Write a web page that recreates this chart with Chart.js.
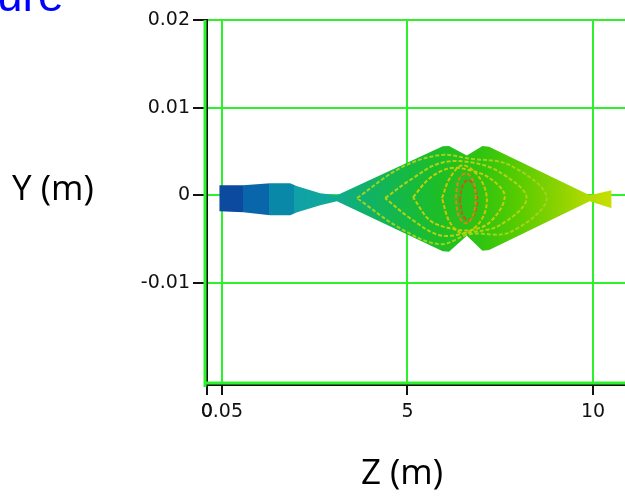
<!DOCTYPE html>
<html>
<head>
<meta charset="utf-8">
<script src="https://cdn.jsdelivr.net/npm/chart.js@4.4.0/dist/chart.umd.min.js"></script>
<style>
  html, body { margin: 0; padding: 0; background: #fff; }
  #wrap { position: relative; width: 625px; height: 500px; }
</style>
</head>
<body>
<div id="wrap"><canvas id="grafico" width="625" height="500"></canvas></div>
<script>
// envelope of the beam (upper and lower edge), z in m, y in m
const zEdge  = [-0.07, 0.58, 1.30, 1.84, 2.03, 2.65, 3.10, 5.95, 6.12, 6.60, 7.02, 7.20, 9.91, 10.50];
const yUpper = [0.00117, 0.00117, 0.00140, 0.00140, 0.00106, 0.00026, 0.00003, 0.00560, 0.00565, 0.00455, 0.00565, 0.00555, 0.00003, 0.00060];
const yLower = [-0.00179, -0.00190, -0.00225, -0.00225, -0.00190, -0.00111, -0.00065, -0.00635, -0.00640, -0.00460, -0.00630, -0.00620, -0.00065, -0.00145];

// contour lines (closed), from outside to inside
const contourZ = [
  [3.64, 4.80, 5.87, 6.68, 7.76, 8.75, 7.76, 6.68, 5.87, 4.80, 3.64],
  [4.40, 5.07, 5.87, 6.68, 7.49, 8.21, 7.49, 6.68, 5.87, 5.07, 4.40],
  [5.15, 5.60, 6.14, 6.68, 7.22, 7.62, 7.22, 6.68, 6.14, 5.60, 5.15],
  [5.93, 6.14, 6.49, 6.95, 7.14, 6.95, 6.49, 6.14, 5.93],
  [6.30, 6.38, 6.57, 6.76, 6.84, 6.76, 6.57, 6.38, 6.30],
  [6.41, 6.49, 6.63, 6.79, 6.88, 6.79, 6.63, 6.49, 6.41]
];
const contourY = [
  [-0.00030, 0.00311, 0.00460, 0.00420, 0.00345, -0.00030, -0.00419, -0.00440, -0.00556, -0.00373, -0.00030],
  [-0.00030, 0.00175, 0.00368, 0.00380, 0.00265, -0.00030, -0.00339, -0.00420, -0.00453, -0.00259, -0.00030],
  [-0.00020, 0.00197, 0.00311, 0.00288, 0.00197, -0.00010, -0.00305, -0.00396, -0.00373, -0.00282, -0.00020],
  [-0.00031, 0.00197, 0.00345, 0.00197, -0.00054, -0.00305, -0.00430, -0.00305, -0.00031],
  [-0.00031, 0.00175, 0.00254, 0.00175, -0.00031, -0.00236, -0.00316, -0.00236, -0.00031],
  [-0.00054, 0.00117, 0.00175, 0.00117, -0.00054, -0.00225, -0.00282, -0.00225, -0.00054]
];
const contourColor = ['#9ed41c', '#acd414', '#c0d00a', '#d2c400', '#d08a18', '#c45a1c'];

// axes
const xTicks = [-0.4, 0, 5, 10];
const xTickLabels = ['0', '0.05', '5', '10'];
const yTicks = [0.02, 0.01, 0, -0.01];
const yTickLabels = ['0.02', '0.01', '0', '-0.01'];

// colour of the fill along z
const fillStops = [
  [-0.1, '#0c4aa0'], [0.58, '#0c4aa0'], [0.58, '#0a66aa'], [1.28, '#0a66aa'],
  [1.28, '#0a88a8'], [1.95, '#0a88a8'], [1.95, '#10a0a8'], [3.0, '#10aa98'],
  [3.7, '#10b070'], [4.8, '#14b848'], [5.8, '#1cbe28'], [7.0, '#30c410'],
  [8.0, '#58cc00'], [9.0, '#88d200'], [10.0, '#b8dc00'], [10.6, '#c8e000']
];

const verde = '#2cf22c';

function rellenar(ctx) {
  const chart = ctx.chart;
  if (!chart.chartArea) return '#20c020';
  const xs = chart.scales.x;
  const z0 = fillStops[0][0], z1 = fillStops[fillStops.length - 1][0];
  const g = chart.ctx.createLinearGradient(xs.getPixelForValue(z0), 0, xs.getPixelForValue(z1), 0);
  fillStops.forEach(s => g.addColorStop((s[0] - z0) / (z1 - z0), s[1]));
  return g;
}

const datasets = [
  {
    data: zEdge.map((z, i) => ({x: z, y: yUpper[i]})),
    showLine: true, borderWidth: 0, pointRadius: 0, fill: '+1',
    backgroundColor: rellenar, borderColor: 'transparent', order: 2
  },
  {
    data: zEdge.map((z, i) => ({x: z, y: yLower[i]})),
    showLine: true, borderWidth: 0, pointRadius: 0, fill: false,
    borderColor: 'transparent', order: 2
  }
];
contourZ.forEach((zs, k) => {
  datasets.push({
    data: zs.map((z, i) => ({x: z, y: contourY[k][i]})),
    showLine: true, borderWidth: 2, pointRadius: 0, tension: 0.35,
    borderColor: contourColor[k], borderDash: [4, 2], fill: false, order: 1
  });
});

// textos fuera del grafico y halo verde de los ejes
const extras = {
  id: 'extras',
  beforeDatasetsDraw(chart) {
    const c = chart.ctx, a = chart.chartArea;
    c.save();
    c.strokeStyle = verde;
    c.lineWidth = 3;
    c.beginPath();
    c.moveTo(a.left - 2, a.top); c.lineTo(a.left - 2, a.bottom + 2);
    c.moveTo(a.left - 2, a.bottom - 2); c.lineTo(a.right, a.bottom - 2);
    c.stroke();
    c.restore();
  },
  afterDraw(chart) {
    const c = chart.ctx;
    c.save();
    c.fillStyle = '#000';
    c.font = '35px "Open Sans"';
    c.textBaseline = 'middle';
    c.textAlign = 'left';
    c.fillText('Y (m)', 12, 190);
    c.textAlign = 'center';
    c.fillText('Z (m)', 402, 474);
    c.fillStyle = '#0000ff';
    c.font = '46px "Liberation Sans"';
    c.textAlign = 'left';
    c.textBaseline = 'alphabetic';
    c.fillText('ure', -3, 11);
    c.restore();
  }
};

new Chart(document.getElementById('grafico'), {
  type: 'scatter',
  data: { datasets: datasets },
  plugins: [extras],
  options: {
    responsive: false,
    animation: false,
    layout: { padding: { top: 20, right: 0, left: 0, bottom: 0 } },
    plugins: { legend: { display: false }, tooltip: { enabled: false } },
    scales: {
      x: {
        type: 'linear', min: -0.4, max: 10.86,
        afterBuildTicks: s => { s.ticks = xTicks.map(v => ({value: v})); },
        afterFit: s => { s.height = 115; },
        ticks: {
          callback: (v, i) => xTickLabels[i],
          font: { family: 'DejaVu Sans', size: 19 }, color: '#111', padding: 6,
          maxRotation: 0, autoSkip: false
        },
        grid: {
          color: c => (c.tick && c.tick.value === -0.4) ? 'transparent' : verde,
          lineWidth: 2, tickColor: '#111', tickLength: 10
        },
        border: { display: true, color: '#111', width: 2 }
      },
      y: {
        type: 'linear', min: -0.0216, max: 0.02,
        afterBuildTicks: s => { s.ticks = yTicks.map(v => ({value: v})); },
        afterFit: s => { s.width = 207; },
        ticks: {
          callback: (v, i) => yTickLabels[i],
          font: { family: 'DejaVu Sans', size: 19 }, color: '#111', padding: 3,
          autoSkip: false
        },
        grid: { color: verde, lineWidth: 2, tickColor: '#111', tickLength: 14 },
        border: { display: true, color: '#111', width: 2 }
      }
    }
  }
});
</script>
</body>
</html>
